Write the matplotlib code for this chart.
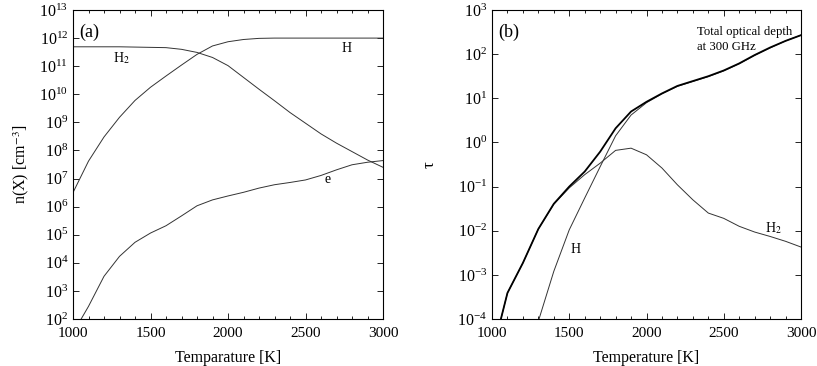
import matplotlib
matplotlib.use('Agg')
import matplotlib.pyplot as plt
from matplotlib.ticker import MultipleLocator, NullLocator
import numpy as np

plt.rcParams['font.family'] = ['Liberation Serif', 'DejaVu Serif']
plt.rcParams['mathtext.fontset'] = 'stix'

# temperature grid [K]
T = [1000, 1100, 1200, 1300, 1400, 1500, 1600, 1700, 1800, 1900, 2000,
     2100, 2200, 2300, 2400, 2500, 2600, 2700, 2800, 2900, 3000]

# panel (a): log10 number densities
logn_H2 = [11.69, 11.69, 11.69, 11.69, 11.68, 11.67, 11.66, 11.60, 11.49, 11.31, 11.02,
           10.60, 10.18, 9.77, 9.35, 8.97, 8.59, 8.26, 7.96, 7.66, 7.40]
logn_H = [6.50, 7.62, 8.48, 9.18, 9.78, 10.25, 10.65, 11.04, 11.42, 11.72, 11.87,
          11.95, 11.99, 12.0, 12.0, 12.0, 12.0, 12.0, 12.0, 12.0, 12.0]
logn_e = [1.50, 2.45, 3.52, 4.23, 4.73, 5.06, 5.32, 5.67, 6.03, 6.24, 6.38,
          6.51, 6.66, 6.78, 6.86, 6.95, 7.11, 7.31, 7.49, 7.58, 7.64]

# panel (b): log10 optical depth at 300 GHz
logtau_tot = [-4.8, -3.41, -2.73, -1.96, -1.39, -1.00, -0.66, -0.21, 0.32, 0.70, 0.92,
              1.11, 1.28, 1.39, 1.50, 1.63, 1.79, 1.98, 2.15, 2.30, 2.43]
logtau_H2 = [-4.8, -3.41, -2.73, -1.96, -1.40, -1.03, -0.73, -0.47, -0.18, -0.13, -0.28,
             -0.58, -0.96, -1.30, -1.60, -1.72, -1.90, -2.03, -2.13, -2.24, -2.37]
logtau_H = [-12.0, -9.0, -6.5, -4.05, -2.92, -1.98, -1.26, -0.55, 0.15, 0.62, 0.90,
            1.10, 1.27, 1.38, 1.49, 1.62, 1.78, 1.97, 2.14, 2.30, 2.43]

fig = plt.figure(figsize=(8.17, 3.66), dpi=100)
ax1 = fig.add_axes([73/817, 1-319/366, 310/817, 309/366])
ax2 = fig.add_axes([492/817, 1-319/366, 309/817, 309/366])

lc = '#333333'
ax1.plot(T, 10**np.array(logn_H2), color=lc, lw=0.7)
ax1.plot(T, 10**np.array(logn_H), color=lc, lw=0.7)
ax1.plot(T, 10**np.array(logn_e), color=lc, lw=0.7)
ax1.set_yscale('log')
ax1.set_ylim(1e2, 1e13)
ax1.set_yticks([10.0**k for k in range(2, 14)])
ax1.set_ylabel('n(X) [cm$^{-3}$]', fontsize=11.5, labelpad=6)
ax1.set_xlabel('Temparature [K]', fontsize=11.5, labelpad=7)
ax1.text(1040, 10**12.22, '(a)', fontsize=13, va='center')
ax1.text(1312, 10**11.28, 'H$_2$', fontsize=10, ha='center', va='center')
ax1.text(2763, 10**11.63, 'H', fontsize=10, ha='center', va='center')
ax1.text(2645, 10**6.95, 'e', fontsize=10, ha='center', va='center')

ax2.plot(T, 10**np.array(logtau_H2), color=lc, lw=0.7)
ax2.plot(T, 10**np.array(logtau_H), color=lc, lw=0.7)
ax2.plot(T, 10**np.array(logtau_tot), color='black', lw=1.3)
ax2.set_yscale('log')
ax2.set_ylim(1e-4, 1e3)
ax2.set_yticks([10.0**k for k in range(-4, 4)])
ax2.set_ylabel('τ', fontsize=12, labelpad=14)
ax2.set_xlabel('Temperature [K]', fontsize=11.5, labelpad=7)
ax2.text(1040, 10**2.5, '(b)', fontsize=13, va='center')
ax2.text(1539, 10**-2.43, 'H', fontsize=10, ha='center', va='center')
ax2.text(2823, 10**-1.94, 'H$_2$', fontsize=10, ha='center', va='center')
ax2.text(2327, 10**2.64, 'Total optical depth\nat 300 GHz', fontsize=9.2,
         ha='left', va='top', linespacing=1.3)

for ax in (ax1, ax2):
    ax.set_xlim(1000, 3000)
    ax.xaxis.set_major_locator(MultipleLocator(500))
    ax.xaxis.set_minor_locator(MultipleLocator(100))
    ax.yaxis.set_minor_locator(NullLocator())
    ax.tick_params(which='both', direction='in', top=True, right=True, labelsize=11)
    ax.tick_params(axis='x', pad=6)
    ax.tick_params(axis='y', labelsize=11.5)
    ax.tick_params(which='major', length=4, width=0.6)
    ax.tick_params(which='minor', length=2.5, width=0.6)
    for s in ax.spines.values():
        s.set_linewidth(0.8)

fig.savefig('out.png', dpi=100)
